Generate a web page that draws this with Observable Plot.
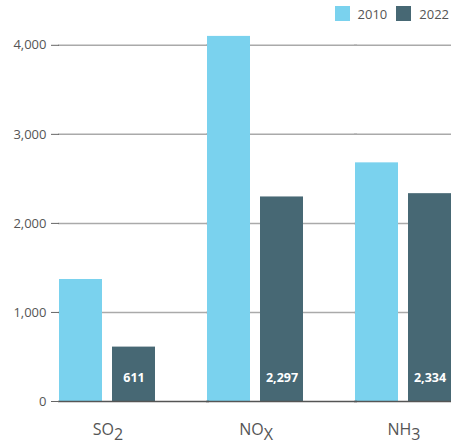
<!DOCTYPE html>
<html><head><meta charset="utf-8">
<script src="https://cdn.jsdelivr.net/npm/d3@7"></script>
<script src="https://cdn.jsdelivr.net/npm/@observablehq/plot@0.6"></script>
<style>
body{margin:0;background:#fff;font-family:"Open Sans",sans-serif;}
#legend{height:27px;display:flex;justify-content:flex-end;align-items:center;font-size:13px;color:#555;padding-right:2px;}
#legend .sw{width:15px;height:15px;display:inline-block;margin-right:8px;}
#legend .item{display:flex;align-items:center;margin-left:9px;}
</style></head><body>
<div id="legend"></div><div id="chart"></div>
<script>
const categories = ["SO2", "NOX", "NH3"];
const years = ["2010", "2022"];
const values2010 = [1370, 4100, 2680];
const values2022 = [611, 2297, 2334];
const yTicks = [0, 1000, 2000, 3000, 4000];
const colors = ["#7AD2EE", "#476874"];

const data = [];
categories.forEach((c, i) => {
  data.push({category: c, year: years[0], value: values2010[i]});
  data.push({category: c, year: years[1], value: values2022[i]});
});

const legend = document.getElementById("legend");
years.forEach((y, i) => {
  const it = document.createElement("span");
  it.className = "item";
  it.innerHTML = `<span class="sw" style="background:${colors[i]}"></span><span>${y}</span>`;
  legend.appendChild(it);
});

const fmt = d3.format(",");
const chart = Plot.plot({
  width: 451, height: 421,
  marginLeft: 58, marginRight: -3, marginTop: 0, marginBottom: 47,
  style: {fontFamily: "'Open Sans', sans-serif", fontSize: "13px", color: "#555", background: "#fff"},
  fx: {domain: categories, paddingInner: 0.342, paddingOuter: 0, label: null},
  x: {domain: years, paddingInner: 0.185, paddingOuter: 0, axis: null},
  y: {domain: [0, 4200], label: null},
  color: {domain: years, range: colors},
  marks: [
    Plot.ruleY(yTicks.slice(1), {stroke: "#aaa", strokeWidth: 1.5, insetLeft: -1, insetRight: -53}),
    Plot.barY(data, {fx: "category", x: "year", y: "value", fill: "year"}),
    Plot.ruleY([0], {stroke: "#555", strokeWidth: 1.5, insetLeft: -1, insetRight: -53}),
    Plot.text(data.filter(d => d.year === "2022"), {
      fx: "category", x: "year", y: 0, dy: -24,
      text: d => fmt(d.value), fill: "white", fontWeight: "bold", fontSize: 12.5
    }),
    Plot.axisY({ticks: yTicks, tickFormat: fmt, tickSize: 8, tickPadding: 5, label: null, stroke: "#666"}),
    Plot.axisFx({anchor: "bottom", tickSize: 0, tickPadding: 22, fontSize: 16, label: null})
  ]
});
document.getElementById("chart").appendChild(chart);

// subscripts for chemical formulas
d3.select(chart).selectAll("text").each(function() {
  const t = this.textContent;
  const m = /^(SO|NO|NH)([2X3])$/.exec(t);
  if (m) {
    const el = d3.select(this);
    el.text(null);
    el.append("tspan").text(m[1]);
    el.append("tspan").attr("dy", "0.3em").text(m[2]);
  }
});
</script>
</body></html>
